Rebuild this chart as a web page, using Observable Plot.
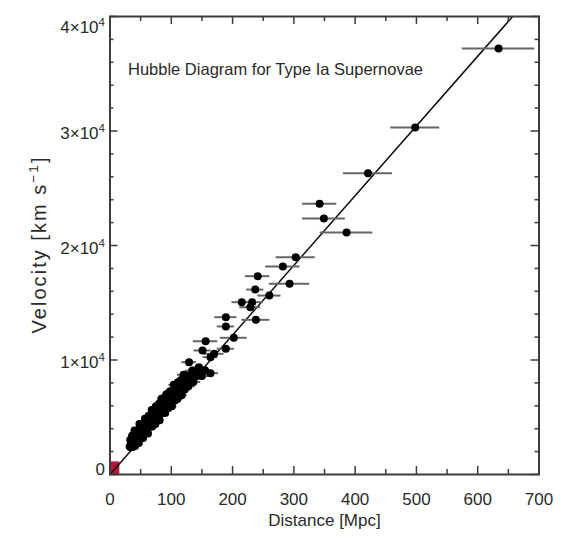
<!DOCTYPE html>
<html><head><meta charset="utf-8">
<script src="https://cdn.jsdelivr.net/npm/d3@7"></script>
<script src="https://cdn.jsdelivr.net/npm/@observablehq/plot@0.6"></script>
<style>
html,body{margin:0;padding:0;background:#fff;}
svg{display:block;}
</style></head><body><div id="chart"></div>
<script>
const title = "Hubble Diagram for Type Ia Supernovae";
const xLabel = "Distance [Mpc]";
const yLabel = "Velocity [km s^-1]";
const xTicks = [0, 100, 200, 300, 400, 500, 600, 700];
const xMinorTicks = [50, 150, 250, 350, 450, 550, 650];
const yTicks = [0, 10000, 20000, 30000, 40000];
const yTickLabels = ["0", "1×10^4", "2×10^4", "3×10^4", "4×10^4"];
const yMinorTicks = [2000, 4000, 6000, 8000, 12000, 14000, 16000, 18000, 22000, 24000, 26000, 28000, 32000, 34000, 36000, 38000];

// Distant supernovae: distance (Mpc), velocity (km/s), distance error (Mpc)
const farDistance = [
  634, 498, 421, 342, 349, 386, 303, 282, 241, 293,
  237, 260, 215, 232, 229, 189, 238, 189, 202, 156,
  189, 151, 170, 164, 129, 145, 164, 123, 150, 155
];
const farVelocity = [
  37200, 30300, 26300, 23640, 22360, 21140, 18980, 18170, 17320, 16650,
  16150, 15630, 15050, 15050, 14610, 13740, 13510, 12930, 11940, 11640,
  10980, 10830, 10540, 10250, 9810, 9370, 8850, 8560, 8600, 9100
];
const farErr = [
  59, 40, 40, 28, 35, 43, 32, 28, 20, 33,
  14, 19, 16, 18, 17, 18, 23, 14, 22, 20,
  14, 14, 16, 12, 12, 12, 13, 10, 11, 11
];
// Nearby supernovae (dense cloud)
const nearDistance = [
  32, 33, 34, 35, 36, 37, 38, 39, 40, 41,
  42, 43, 44, 45, 46, 47, 48, 49, 50, 51,
  52, 53, 54, 55, 56, 57, 58, 59, 60, 61,
  62, 63, 64, 65, 66, 67, 68, 69, 70, 71,
  72, 73, 74, 75, 76, 77, 78, 79, 80, 81,
  82, 83, 84, 85, 86, 87, 88, 89, 90, 91,
  92, 93, 94, 95, 96, 97, 98, 99, 100, 101,
  102, 103, 104, 105, 106, 107, 108, 109, 110, 111,
  112, 113, 114, 115, 116, 117, 118, 119, 120, 121,
  122, 124, 125, 127, 128, 130, 132, 134, 136, 138,
  141, 144, 147
];
const nearVelocity = [
  2450, 3010, 2370, 2830, 3390, 2400, 3210, 2880, 3840, 2500,
  3360, 3820, 2980, 3740, 3400, 2760, 4420, 3380, 3950, 3310,
  4370, 3830, 3190, 4350, 3810, 4870, 4230, 3690, 4750, 4220,
  3580, 5140, 4700, 4160, 5020, 4480, 5640, 4200, 4960, 5520,
  4690, 5350, 4410, 5970, 5230, 4890, 5850, 5310, 6170, 4730,
  5790, 5360, 6620, 6180, 5340, 5900, 6560, 5820, 5380, 6440,
  7000, 5960, 6420, 5790, 6950, 6410, 7270, 6230, 6890, 5950,
  7210, 6670, 7830, 7000, 6460, 7620, 6880, 7440, 6600, 8060,
  7320, 7780, 7040, 8200, 7660, 6930, 8190, 7550, 8710, 8070,
  7430, 8650, 8010, 8530, 7700, 8520, 8240, 9060, 8080, 8800,
  8590, 9070, 8650
];
const nearErr = [
  2, 3, 2, 3, 3, 2, 3, 3, 3, 3,
  3, 3, 3, 3, 4, 3, 4, 3, 4, 4,
  4, 4, 4, 4, 4, 4, 4, 4, 5, 4,
  5, 4, 5, 5, 5, 5, 5, 5, 5, 5,
  5, 5, 6, 5, 6, 5, 6, 6, 6, 6,
  6, 6, 6, 6, 7, 6, 7, 6, 7, 7,
  7, 7, 7, 7, 7, 7, 7, 7, 8, 8,
  8, 8, 8, 8, 8, 8, 8, 8, 9, 9,
  9, 9, 9, 9, 9, 9, 9, 10, 10, 10,
  10, 10, 10, 11, 11, 11, 11, 11, 12, 12,
  12, 12, 13
];

// Hubble-law fit line end points and local-volume box
const fitDistance = [0, 657];
const fitVelocity = [0, 40000];
const localBoxDistance = [0, 16];
const localBoxVelocity = [0, 1100];

const W = 571, H = 539;
const mTop = 16, mRight = 32.5, mBottom = 65, mLeft = 109.5;
const plotW = W - mLeft - mRight, plotH = H - mTop - mBottom;
const FS = 17;
const YLFS = 20;
const ink = "#2a2a2a";

const distance = farDistance.concat(nearDistance);
const velocity = farVelocity.concat(nearVelocity);
const distErr = farErr.concat(nearErr);
const sn = distance.map((d, i) => ({d, v: velocity[i], e: distErr[i]}));
const fit = fitDistance.map((d, i) => ({d, v: fitVelocity[i]}));
const box = [{x1: localBoxDistance[0], x2: localBoxDistance[1], y1: localBoxVelocity[0], y2: localBoxVelocity[1]}];

const chart = Plot.plot({
  width: W, height: H,
  marginTop: mTop, marginRight: mRight, marginBottom: mBottom, marginLeft: mLeft,
  style: {fontFamily: "'Liberation Sans', Arial, sans-serif", background: "#fff"},
  x: {domain: [0, 700]},
  y: {domain: [0, 40000]},
  marks: [
    Plot.rect(box, {x1: "x1", x2: "x2", y1: "y1", y2: "y2", fill: "#b0193a"}),
    Plot.line(fit, {x: "d", y: "v", stroke: "#111", strokeWidth: 1.5}),
    Plot.ruleY(sn, {y: "v", x1: d => d.d - d.e, x2: d => d.d + d.e, stroke: "#666", strokeWidth: 2}),
    Plot.dot(sn, {x: "d", y: "v", r: 4, fill: "#000", stroke: null}),
    Plot.frame({stroke: "#3c3c3c", strokeWidth: 2}),
    // inward ticks, all four sides
    Plot.tickX(xTicks, {x: d => d, insetTop: plotH - 8, stroke: "#3c3c3c", strokeWidth: 1.5}),
    Plot.tickX(xMinorTicks, {x: d => d, insetTop: plotH - 5, stroke: "#3c3c3c", strokeWidth: 1.5}),
    Plot.tickX(xTicks, {x: d => d, insetBottom: plotH - 8, stroke: "#3c3c3c", strokeWidth: 1.5}),
    Plot.tickX(xMinorTicks, {x: d => d, insetBottom: plotH - 5, stroke: "#3c3c3c", strokeWidth: 1.5}),
    Plot.tickY(yTicks, {y: d => d, insetRight: plotW - 8, stroke: "#3c3c3c", strokeWidth: 1.5}),
    Plot.tickY(yMinorTicks, {y: d => d, insetRight: plotW - 4, stroke: "#3c3c3c", strokeWidth: 1.5}),
    Plot.tickY(yTicks, {y: d => d, insetLeft: plotW - 8, stroke: "#3c3c3c", strokeWidth: 1.5}),
    Plot.tickY(yMinorTicks, {y: d => d, insetLeft: plotW - 4, stroke: "#3c3c3c", strokeWidth: 1.5}),
    Plot.axisX({ticks: xTicks, tickSize: 0, tickPadding: 18, fontSize: FS, fill: ink,
      label: xLabel, labelAnchor: "center", labelOffset: 51, labelArrow: "none"}),
    Plot.axisY({ticks: yTicks, tickSize: 0, tickPadding: 5, fontSize: FS, fill: ink,
      tickFormat: d => yTickLabels[yTicks.indexOf(d)],
      label: null}),
    Plot.axisY({ticks: [], tickSize: 0, fontSize: YLFS, fill: ink,
      label: yLabel, labelAnchor: "center", labelOffset: 78, labelArrow: "none"}),
    Plot.text([title], {frameAnchor: "top-left", dx: 18, dy: 47, lineAnchor: "top", textAnchor: "start",
      fontSize: 16.5, fill: ink})
  ]
});

// superscripts as real tspans
const NS = "http://www.w3.org/2000/svg";
function supify(t, fs) {
  const s = t.textContent;
  if (!s.includes("^")) return;
  const parts = s.split(/\^(-?\d+)/);
  while (t.firstChild) t.removeChild(t.firstChild);
  parts.forEach((p, i) => {
    if (!p) return;
    const ts = document.createElementNS(NS, "tspan");
    if (i % 2 === 1) {
      ts.setAttribute("dy", -0.42 * fs);
      ts.setAttribute("font-size", 0.68 * fs);
      ts.textContent = p.replace("-", "\u2212");
    } else {
      if (i > 0) ts.setAttribute("dy", 0.42 * fs);
      ts.textContent = p;
    }
    t.appendChild(ts);
  });
}
chart.querySelectorAll('[aria-label="y-axis tick label"] text').forEach(t => supify(t, FS));
chart.querySelectorAll('[aria-label="y-axis label"] text').forEach(t => {
  supify(t, YLFS);
  t.setAttribute("textLength", 176);
  t.setAttribute("lengthAdjust", "spacing");
});
// nudge y tick labels like the original (kept inside axis range)
const yShift = [-5, 3, 3, 3, 11];
chart.querySelectorAll('[aria-label="y-axis tick label"] text').forEach((t, i) => {
  const s = yShift[i] || 0;
  t.setAttribute("transform", (t.getAttribute("transform") || "") + ` translate(0,${s})`);
});
document.getElementById("chart").appendChild(chart);
</script>
</body></html>
